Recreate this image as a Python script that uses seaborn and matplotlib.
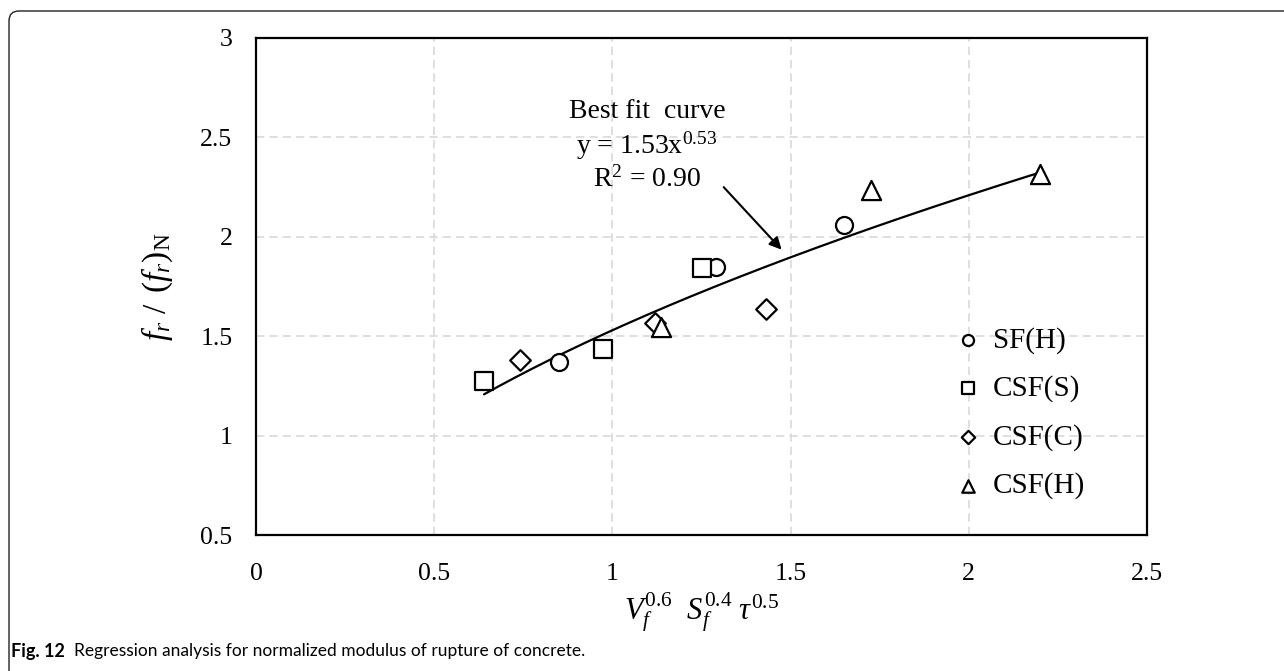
import numpy as np
import pandas as pd
import matplotlib
matplotlib.use("Agg")
import matplotlib.pyplot as plt
import seaborn as sns
from matplotlib.patches import FancyBboxPatch
from matplotlib.transforms import IdentityTransform

# ---------------- data ----------------
sf_h_x = [0.85, 1.29, 1.65]
sf_h_y = [1.37, 1.85, 2.06]
csf_s_x = [0.64, 0.975, 1.25]
csf_s_y = [1.275, 1.435, 1.845]
csf_c_x = [0.74, 1.12, 1.43]
csf_c_y = [1.38, 1.565, 1.635]
csf_h_x = [1.135, 1.725, 2.20]
csf_h_y = [1.545, 2.235, 2.315]
group_names = ["SF(H)", "CSF(S)", "CSF(C)", "CSF(H)"]

# best-fit power curve stated on the chart: y = 1.53 x^0.53
fit_a = 1.53
fit_b = 0.53
fit_x_start = 0.64
fit_x_end = 2.20

x_ticks = [0, 0.5, 1, 1.5, 2, 2.5]
x_tick_labels = ["0", "0.5", "1", "1.5", "2", "2.5"]
y_ticks = [0.5, 1, 1.5, 2, 2.5, 3]
y_tick_labels = ["0.5", "1", "1.5", "2", "2.5", "3"]

# ---------------- tables ----------------
df = pd.DataFrame({
    "x": sf_h_x + csf_s_x + csf_c_x + csf_h_x,
    "y": sf_h_y + csf_s_y + csf_c_y + csf_h_y,
    "group": [group_names[0]] * 3 + [group_names[1]] * 3 + [group_names[2]] * 3 + [group_names[3]] * 3,
})
fit_xs = np.linspace(fit_x_start, fit_x_end, 200)
fit_df = pd.DataFrame({"x": fit_xs, "y": fit_a * fit_xs ** fit_b})

# ---------------- style ----------------
sns.set_theme(style="white")
plt.rcParams["font.family"] = ["Liberation Serif", "DejaVu Serif"]
plt.rcParams["mathtext.fontset"] = "custom"
plt.rcParams["mathtext.rm"] = "Liberation Serif"
plt.rcParams["mathtext.it"] = "Liberation Serif:italic"
plt.rcParams["mathtext.bf"] = "Liberation Serif:bold"
plt.rcParams["text.color"] = "black"
plt.rcParams["axes.labelcolor"] = "black"

W, H = 1284, 671
fig = plt.figure(figsize=(W / 100, H / 100), dpi=100)
ax = fig.add_axes([256 / W, 1 - 535 / H, (1147 - 256) / W, (535 - 38) / H])

# fitted curve
sns.lineplot(data=fit_df, x="x", y="y", ax=ax, color="black", linewidth=1.6, zorder=2)

markers = {"SF(H)": "o", "CSF(S)": "s", "CSF(C)": "D", "CSF(H)": "^"}
sizes = {"SF(H)": 150, "CSF(S)": 150, "CSF(C)": 110, "CSF(H)": 190}
for g in group_names:
    sub = df[df["group"] == g]
    sns.scatterplot(data=sub, x="x", y="y", ax=ax, marker=markers[g], s=sizes[g],
                    color="white", edgecolor="black", linewidth=1.6, label=g, zorder=3)

ax.set_xlim(0, 2.5)
ax.set_ylim(0.5, 3)
ax.set_xticks(x_ticks)
ax.set_xticklabels(x_tick_labels)
ax.set_yticks(y_ticks)
ax.set_yticklabels(y_tick_labels)
ax.tick_params(axis="both", length=0, labelsize=18.5, colors="black")
ax.tick_params(axis="x", pad=20)
ax.tick_params(axis="y", pad=17)

ax.grid(True, color="#d9d9d9", linestyle=(0, (5, 3)), linewidth=1.2)
for s in ax.spines.values():
    s.set_visible(True)
    s.set_color("black")
    s.set_linewidth(1.6)

ax.set_xlabel(r"$V_f^{\mathrm{0.6}}\ \ S_f^{\mathrm{0.4}}\ \tau^{\mathrm{0.5}}$", fontsize=22, labelpad=4)
ax.set_ylabel(r"$f_r\ /\ \,(f_r)_{\mathrm{N}}$", fontsize=24, labelpad=18)

# annotation
ax.text(1.097, 2.63, "Best fit  curve", ha="center", va="center", fontsize=20)
ax.text(1.097, 2.46, r"y = 1.53x$^{\mathrm{0.53}}$", ha="center", va="center", fontsize=20)
ax.text(1.097, 2.29, r"R$^{\mathrm{2}}$ = 0.90", ha="center", va="center", fontsize=20)
ax.annotate("", xy=(1.48, 1.925), xytext=(1.307, 2.26),
            arrowprops=dict(arrowstyle="-|>", color="black", lw=1.5, mutation_scale=18))

leg = ax.legend(loc="center left", bbox_to_anchor=(0.789, 0.245), frameon=False,
                fontsize=21, markerscale=0.65, handlelength=0.6, handletextpad=0.55,
                labelspacing=0.74, borderpad=0, borderaxespad=0)

# outer frame with rounded top-left corner
frame = FancyBboxPatch((9, -40), 1400, (H - 11) + 40, boxstyle="round,pad=0,rounding_size=10",
                       transform=IdentityTransform(), fill=False, edgecolor="#222222",
                       linewidth=1.0, clip_on=False)
fig.add_artist(frame)

# caption
cap_font = ["Lato", "Liberation Sans", "DejaVu Sans"]
fig.text(11 / W, 1 - 651 / H, "Fig. 12", fontsize=13, fontweight="bold",
         family=cap_font, va="center", ha="left")
fig.text(74 / W, 1 - 651 / H, "Regression analysis for normalized modulus of rupture of concrete.",
         fontsize=12.5, family=cap_font, va="center", ha="left")

fig.savefig("out.png", dpi=100)
